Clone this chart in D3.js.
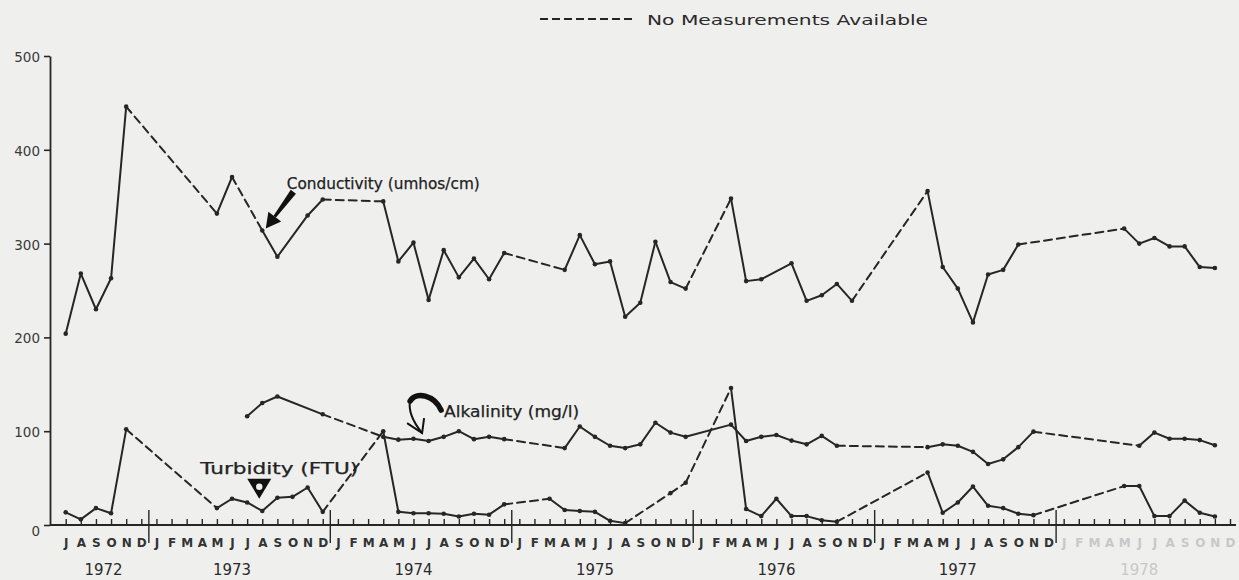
<!DOCTYPE html>
<html>
<head>
<meta charset="utf-8">
<script src="https://cdn.jsdelivr.net/npm/d3@7"></script>
<style>
  html, body { margin: 0; padding: 0; background: #efefee; }
  svg { display: block; font-family: "DejaVu Sans", sans-serif; }
</style>
</head>
<body>
<svg id="chart" width="1239" height="580"></svg>
<script>
// ---- axis labels ----
const monthLetters = ["J", "F", "M", "A", "M", "J", "J", "A", "S", "O", "N", "D"];
const years = [1972, 1973, 1974, 1975, 1976, 1977, 1978];
const yTicks = [0, 100, 200, 300, 400, 500];

// ---- Conductivity (umhos/cm) ----
const conductivityDates = [
  "1972-07", "1972-08", "1972-09", "1972-10", "1972-11",
  "1973-05", "1973-06", "1973-08", "1973-09", "1973-11", "1973-12",
  "1974-04", "1974-05", "1974-06", "1974-07", "1974-08", "1974-09", "1974-10", "1974-11", "1974-12",
  "1975-04", "1975-05", "1975-06", "1975-07", "1975-08", "1975-09", "1975-10", "1975-11", "1975-12",
  "1976-03", "1976-04", "1976-05", "1976-07", "1976-08", "1976-09", "1976-10", "1976-11",
  "1977-04", "1977-05", "1977-06", "1977-07", "1977-08", "1977-09", "1977-10",
  "1978-05", "1978-06", "1978-07", "1978-08", "1978-09", "1978-10", "1978-11"
];
const conductivityValues = [
  204, 268, 230, 263, 446,
  332, 371, 314, 286, 330, 347,
  345, 281, 301, 240, 293, 264, 284, 262, 290,
  272, 309, 278, 281, 222, 237, 302, 259, 252,
  348, 260, 262, 279, 239, 245, 257, 239,
  356, 275, 252, 216, 267, 272, 299,
  316, 300, 306, 297, 297, 275, 274
];
// last reading before a stretch without measurements
const conductivityGaps = ["1972-11", "1973-06", "1973-12", "1974-12", "1975-12", "1976-11", "1977-10"];

// ---- Alkalinity (mg/l) ----
const alkalinityDates = [
  "1973-07", "1973-08", "1973-09", "1973-12",
  "1974-04", "1974-05", "1974-06", "1974-07", "1974-08", "1974-09", "1974-10", "1974-11", "1974-12",
  "1975-04", "1975-05", "1975-06", "1975-07", "1975-08", "1975-09", "1975-10", "1975-11", "1975-12",
  "1976-03", "1976-04", "1976-05", "1976-06", "1976-07", "1976-08", "1976-09", "1976-10",
  "1977-04", "1977-05", "1977-06", "1977-07", "1977-08", "1977-09", "1977-10", "1977-11",
  "1978-06", "1978-07", "1978-08", "1978-09", "1978-10", "1978-11"
];
const alkalinityValues = [
  116, 130, 137, 118,
  94, 91, 92, 89.5, 94, 100, 91.5, 94, 91.5,
  82, 105, 94, 84.5, 82, 86, 109, 98.5, 94,
  107, 89.5, 94, 96, 90, 86, 95, 84.5,
  83, 86, 84.5, 78, 65, 70, 83, 99.5,
  84.5, 98.5, 92, 92, 90.5, 85
];
const alkalinityGaps = ["1973-12", "1974-12", "1976-10", "1977-11"];

// ---- Turbidity (FTU) ----
const turbidityDates = [
  "1972-07", "1972-08", "1972-09", "1972-10", "1972-11",
  "1973-05", "1973-06", "1973-07", "1973-08", "1973-09", "1973-10", "1973-11", "1973-12",
  "1974-04", "1974-05", "1974-06", "1974-07", "1974-08", "1974-09", "1974-10", "1974-11", "1974-12",
  "1975-03", "1975-04", "1975-05", "1975-06", "1975-07", "1975-08", "1975-11", "1975-12",
  "1976-03", "1976-04", "1976-05", "1976-06", "1976-07", "1976-08", "1976-09", "1976-10",
  "1977-04", "1977-05", "1977-06", "1977-07", "1977-08", "1977-09", "1977-10", "1977-11",
  "1978-05", "1978-06", "1978-07", "1978-08", "1978-09", "1978-10", "1978-11"
];
const turbidityValues = [
  13.5, 6, 18, 12.5, 102,
  18, 28, 24, 15, 29, 30, 40, 14,
  100, 14, 12.5, 12.5, 12, 9, 12, 11, 22,
  28, 16, 15, 14, 4.5, 2, 34, 45,
  146, 17, 9.5, 28, 9.5, 9.5, 5, 3.5,
  56, 13, 24, 41, 20.5, 18, 12, 10.5,
  41.5, 41.5, 9.5, 9.5, 26, 13, 9
];
const turbidityGaps = ["1972-11", "1973-12", "1974-12", "1975-08", "1975-11", "1975-12", "1976-10", "1977-11"];

// ---- layout ----
const ink = "#262626";
const paper = "#efefee";
const svg = d3.select("#chart");

// every month from July 1972 through December 1978
const monthKeys = [];
years.forEach(yr => {
  for (let m = (yr === 1972 ? 7 : 1); m <= 12; m++) {
    monthKeys.push(yr + "-" + String(m).padStart(2, "0"));
  }
});

const x = d3.scalePoint().domain(monthKeys).range([65.7, 1230]);
const y = d3.scaleLinear().domain([0, 500]).range([525, 56]);
const axisY = 525;

// ---- y axis ----
const yAxis = d3.axisLeft(y).tickValues(yTicks).tickSize(6).tickPadding(4).tickSizeOuter(0);
const gy = svg.append("g").attr("transform", "translate(50,0)").call(yAxis);
gy.select(".domain").attr("stroke", ink).attr("stroke-width", 1.8);
gy.selectAll(".tick line").attr("stroke", ink).attr("stroke-width", 1.6);
gy.selectAll(".tick text")
  .attr("font-family", "DejaVu Sans, sans-serif")
  .attr("font-size", 13.5)
  .attr("fill", "#3a3a3a")
  .attr("dy", d => d === 0 ? "0.8em" : "0.4em");

// ---- x axis: month ticks and letters ----
const xAxis = d3.axisBottom(x)
  .tickSize(-6)
  .tickPadding(13)
  .tickFormat(k => monthLetters[+k.slice(5) - 1]);
const gx = svg.append("g").attr("transform", `translate(0,${axisY})`).call(xAxis);
gx.select(".domain").remove();
gx.selectAll(".tick line").attr("stroke", ink).attr("stroke-width", 1.4);
gx.selectAll(".tick text")
  .attr("font-family", "DejaVu Sans, sans-serif")
  .attr("font-size", 12)
  .attr("font-weight", "bold")
  .attr("fill", k => k.startsWith("1978") ? "#c8c8c8" : "#333");

svg.append("line")
  .attr("x1", 50).attr("x2", 1236)
  .attr("y1", axisY).attr("y2", axisY)
  .attr("stroke", ink).attr("stroke-width", 2.2);

// year boundaries between December and January
const step = x.step();
years.slice(1).forEach(yr => {
  const bx = x(yr + "-01") - step / 2;
  svg.append("line")
    .attr("x1", bx).attr("x2", bx)
    .attr("y1", axisY - 15).attr("y2", axisY + 18)
    .attr("stroke", ink).attr("stroke-width", 1.4);
});

// year labels, centred under each year's months
years.forEach(yr => {
  const ks = monthKeys.filter(k => k.startsWith(yr));
  const cx = yr === 1972 ? (x(ks[2]) + x(ks[3])) / 2 : x(yr + "-06");
  svg.append("text")
    .attr("x", cx - 19).attr("y", 575)
    .attr("font-size", 16)
    .attr("textLength", 38).attr("lengthAdjust", "spacingAndGlyphs")
    .attr("fill", yr === 1978 ? "#c8c8c8" : "#2a2a2a")
    .text(yr);
});

// ---- series ----
function drawSeries(dates, values, gaps) {
  const pts = dates.map((d, i) => ({ d, v: values[i] }));
  const g = svg.append("g");
  for (let i = 1; i < pts.length; i++) {
    const a = pts[i - 1], b = pts[i];
    const dashed = gaps.includes(a.d);
    g.append("line")
      .attr("x1", x(a.d)).attr("y1", y(a.v))
      .attr("x2", x(b.d)).attr("y2", y(b.v))
      .attr("stroke", ink)
      .attr("stroke-width", 2)
      .attr("stroke-linecap", "round")
      .attr("stroke-dasharray", dashed ? "8,5" : null);
  }
  g.selectAll("circle").data(pts).join("circle")
    .attr("cx", p => x(p.d)).attr("cy", p => y(p.v))
    .attr("r", 2.3).attr("fill", ink);
}

drawSeries(conductivityDates, conductivityValues, conductivityGaps);
drawSeries(alkalinityDates, alkalinityValues, alkalinityGaps);
drawSeries(turbidityDates, turbidityValues, turbidityGaps);

// ---- annotations ----
function label(txt, lx, ly, len) {
  svg.append("text")
    .attr("x", lx).attr("y", ly)
    .attr("font-size", 15)
    .attr("fill", "#222")
    .attr("stroke", "#222").attr("stroke-width", 0.25)
    .attr("textLength", len).attr("lengthAdjust", "spacingAndGlyphs")
    .text(txt);
}

// Conductivity: heavy straight arrow pointing down-left
{
  const tx = x("1973-08") + 3.5, ty = y(316);
  label("Conductivity (umhos/cm)", tx + 21, ty - 40, 193);
  const ux = 0.6, uy = -0.8, px = 0.8, py = 0.6;
  const hl = 15, hw = 8;
  const bx = tx + ux * hl, by = ty + uy * hl;
  const ex = tx + ux * 46, ey = ty + uy * 46;
  const head = [[tx, ty], [bx + px * hw, by + py * hw], [bx - px * hw, by - py * hw]];
  svg.append("path").attr("d", d3.line()(head) + "Z").attr("fill", "#111");
  const shaft = [
    [bx + px * 1.5, by + py * 1.5], [ex + px * 3.2, ey + py * 3.2],
    [ex - px * 3.2, ey - py * 3.2], [bx - px * 1.5, by - py * 1.5]
  ];
  svg.append("path").attr("d", d3.line()(shaft) + "Z").attr("fill", "#111");
}

// Alkalinity: hooked arrow curling down onto the line
{
  const tx = x("1974-07") - 6.5, ty = y(98);
  label("Alkalinity (mg/l)", tx + 22, ty - 16, 135);
  svg.append("path")
    .attr("d", `M${tx + 19},${ty - 23} C${tx + 12},${ty - 38} ${tx - 6},${ty - 42} ${tx - 12},${ty - 32}`)
    .attr("fill", "none").attr("stroke", "#111").attr("stroke-width", 5.5).attr("stroke-linecap", "round");
  svg.append("path")
    .attr("d", `M${tx - 12},${ty - 32} C${tx - 14},${ty - 22} ${tx - 8},${ty - 10} ${tx},${ty}`)
    .attr("fill", "none").attr("stroke", "#111").attr("stroke-width", 2);
  svg.append("path")
    .attr("d", `M${tx - 15},${ty - 10} L${tx},${ty} L${tx + 2},${ty - 15}`)
    .attr("fill", "none").attr("stroke", "#111").attr("stroke-width", 2);
}

// Turbidity: thick downward triangle with a hollow centre
{
  const tx = x("1973-08") - 3, ty = y(28);
  label("Turbidity (FTU)", tx - 59, ty - 25, 158);
  svg.append("path")
    .attr("d", `M${tx - 12},${ty - 20} L${tx + 12},${ty - 20} L${tx},${ty} Z`)
    .attr("fill", "#111");
  svg.append("circle").attr("cx", tx).attr("cy", ty - 12).attr("r", 3.2).attr("fill", paper);
}

// ---- key for the dashed segments ----
svg.append("line")
  .attr("x1", 540).attr("x2", 633).attr("y1", 19).attr("y2", 19)
  .attr("stroke", ink).attr("stroke-width", 2).attr("stroke-dasharray", "8,4");
svg.append("text")
  .attr("x", 647).attr("y", 24.5)
  .attr("font-size", 14)
  .attr("fill", "#2a2a2a")
  .attr("textLength", 281).attr("lengthAdjust", "spacingAndGlyphs")
  .text("No Measurements Available");
</script>
</body>
</html>
